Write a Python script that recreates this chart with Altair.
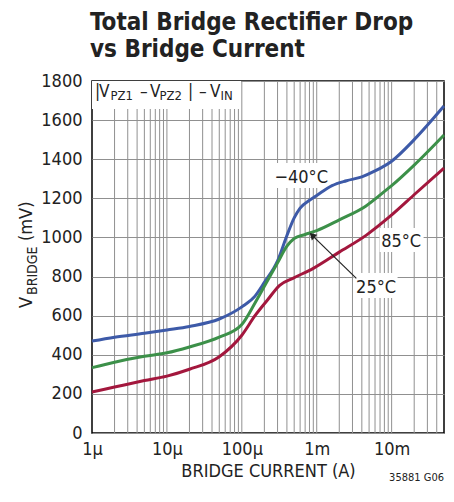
import altair as alt
import pandas as pd

FONT = "Liberation Sans Narrow, Arial Narrow, DejaVu Sans Condensed, Roboto Condensed, Liberation Sans, sans-serif"

# ---- data ----
blue_i = [1e-6, 2e-6, 5e-6, 1e-5, 2e-5, 5e-5, 1e-4, 1.5e-4, 2e-4, 3e-4, 4e-4, 5e-4, 6e-4, 8e-4, 1e-3, 1.6e-3, 2.5e-3, 4e-3, 6e-3, 1e-2, 2e-2, 5e-2]
blue_v = [470, 490, 510, 527, 545, 583, 645, 700, 770, 880, 1010, 1100, 1150, 1190, 1215, 1265, 1290, 1310, 1340, 1390, 1500, 1672]

green_i = [1e-6, 2e-6, 5e-6, 1e-5, 2e-5, 5e-5, 1e-4, 1.5e-4, 2e-4, 3e-4, 4e-4, 5e-4, 7e-4, 1e-3, 2e-3, 4.5e-3, 8.5e-3, 1e-2, 2e-2, 5e-2]
green_v = [334, 362, 392, 410, 440, 490, 555, 665, 750, 870, 955, 995, 1015, 1035, 1090, 1160, 1243, 1265, 1370, 1524]

red_i = [1e-6, 2e-6, 5e-6, 1e-5, 2e-5, 5e-5, 1e-4, 1.5e-4, 2.2e-4, 3.2e-4, 4.8e-4, 9e-4, 2e-3, 4.6e-3, 9.4e-3, 2.1e-2, 5e-2]
red_v = [210, 235, 268, 291, 326, 390, 500, 600, 680, 755, 791, 842, 925, 1012, 1106, 1226, 1355]

series_names = ["\u221240\u00b0C", "25\u00b0C", "85\u00b0C"]
series_colors = ["#3d5aa8", "#3c9049", "#a3173d"]

x_tick_values = [1e-6, 1e-5, 1e-4, 1e-3, 1e-2]
x_tick_labels = ["1\u00b5", "10\u00b5", "100\u00b5", "1m", "10m"]
y_tick_values = [0, 200, 400, 600, 800, 1000, 1200, 1400, 1600, 1800]
x_domain = [1e-6, 5e-2]
y_domain = [0, 1800]

grid_x = [m * d for d in [1e-6, 1e-5, 1e-4, 1e-3, 1e-2] for m in range(1, 10) if 1e-6 < m * d < 5e-2]

# curve labels (current, mV) and their white boxes
label_text = ["\u221240\u00b0C", "85\u00b0C", "25\u00b0C"]
label_i = [6.2e-4, 1.34e-2, 6.2e-3]
label_v = [1278, 951, 716]
box_i1 = [2.67e-4, 6.92e-3, 3.11e-3]
box_i2 = [1.49e-3, 2.67e-2, 1.2e-2]
box_v1 = [1253, 926, 690]
box_v2 = [1381, 1048, 818]

arrow_i = [3.38e-3, 8.9e-4]
arrow_v = [791, 1007]

# ---- tables ----
rows = []
for name, xs, ys in zip(series_names, [blue_i, green_i, red_i], [blue_v, green_v, red_v]):
    for a, b in zip(xs, ys):
        rows.append({"series": name, "I": a, "V": b})
curves = pd.DataFrame(rows)
grid_df = pd.DataFrame({"I": grid_x})
labels_df = pd.DataFrame({"t": label_text, "I": label_i, "V": label_v})
boxes_df = pd.DataFrame({"i1": box_i1, "i2": box_i2, "v1": box_v1, "v2": box_v2})
arrow_df = pd.DataFrame({"i1": [arrow_i[0]], "i2": [arrow_i[1]], "v1": [arrow_v[0]], "v2": [arrow_v[1]]})
head_df = pd.DataFrame({"I": [arrow_i[1]], "V": [arrow_v[1]]})

label_expr = " : ".join(
    f"datum.value < {v * 3:.0e} ? '{t}'" for v, t in zip(x_tick_values[:-1], x_tick_labels[:-1])
) + f" : '{x_tick_labels[-1]}'"

xscale = alt.Scale(type="log", domain=x_domain)
yscale = alt.Scale(domain=y_domain, nice=False)
xaxis = alt.Axis(values=x_tick_values, labelExpr=label_expr, grid=False, ticks=False, domain=False,
                 labelFont=FONT, labelFontSize=18, labelColor="#222", labelPadding=7,
                 title="BRIDGE CURRENT (A)", titleFont=FONT, titleFontSize=18, titleFontWeight="normal",
                 titleColor="#222", titlePadding=4, labelFlush=False)
yaxis = alt.Axis(values=y_tick_values, format="d", grid=True, gridColor="#909090", gridWidth=1, ticks=False,
                 domain=False, labelFont=FONT, labelFontSize=18, labelColor="#222", labelPadding=10, title=None)

base = alt.Chart(curves)

vgrid = alt.Chart(grid_df).mark_rule(color="#909090", strokeWidth=1).encode(
    x=alt.X("I:Q", scale=xscale, axis=xaxis),
    y=alt.value(0), y2=alt.value(352))

curve_layer = base.mark_line(strokeWidth=3, interpolate="monotone").encode(
    x=alt.X("I:Q", scale=xscale, axis=xaxis),
    y=alt.Y("V:Q", scale=yscale, axis=yaxis),
    color=alt.Color("series:N", scale=alt.Scale(domain=series_names, range=series_colors), legend=None),
    order=alt.Order("I:Q"))

boxes = alt.Chart(boxes_df).mark_rect(fill="white").encode(
    x=alt.X("i1:Q", scale=xscale, axis=xaxis), x2="i2:Q",
    y=alt.Y("v1:Q", scale=yscale, axis=yaxis), y2="v2:Q")

labels = alt.Chart(labels_df).mark_text(font=FONT, fontSize=18, color="#222", baseline="alphabetic").encode(
    x=alt.X("I:Q", scale=xscale, axis=xaxis),
    y=alt.Y("V:Q", scale=yscale, axis=yaxis), text="t:N")

arrow = alt.Chart(arrow_df).mark_rule(color="#222", strokeWidth=1.2).encode(
    x=alt.X("i1:Q", scale=xscale, axis=xaxis), x2="i2:Q",
    y=alt.Y("v1:Q", scale=yscale, axis=yaxis), y2="v2:Q")
head = alt.Chart(head_df).mark_point(shape="triangle", filled=True, color="#222", size=60, angle=314, opacity=1).encode(
    x=alt.X("I:Q", scale=xscale, axis=xaxis),
    y=alt.Y("V:Q", scale=yscale, axis=yaxis))

# annotation text placed in pixels
one = pd.DataFrame({"a": [0]})
def txt(s, x, y, size, weight="normal", angle=0, align="left"):
    return alt.Chart(one).mark_text(text=s, font=FONT, fontSize=size, fontWeight=weight, color="#222",
                                    align=align, baseline="alphabetic", angle=angle).encode(
        x=alt.value(x), y=alt.value(y))

topbox = alt.Chart(one).mark_rect(fill="white").encode(
    x=alt.value(0), x2=alt.value(149), y=alt.value(0), y2=alt.value(28))

box_text = [
    txt("|", 3, 16, 17), txt("V", 7, 16, 17), txt("PZ1", 18.5, 19, 13),
    txt("\u2013", 48, 16, 17), txt("V", 58, 16, 17), txt("PZ2", 67.5, 19, 13),
    txt("|", 96, 16, 17), txt("\u2013", 107, 16, 17), txt("V", 118, 16, 17), txt("IN", 128.5, 19, 13),
]
title = [txt("Total Bridge Rectifier Drop", -2, -51, 24, "bold"),
         txt("vs Bridge Current", -2, -24, 24, "bold")]
ytitle = [txt("V", -60, 227, 18, angle=270), txt("BRIDGE", -55, 214, 14, angle=270),
          txt("(mV)", -60, 160, 18, angle=270)]
foot = [txt("35881 G06", 352, 400, 11, align="right")]

chart = alt.layer(
    vgrid, boxes, topbox, curve_layer, arrow, head, labels, *box_text, *title, *ytitle, *foot
).properties(
    width=352, height=352,
    autosize=alt.AutoSizeParams(type="none"),
    padding={"left": 84, "top": 73, "right": 2, "bottom": 57},
).configure_view(stroke="black", strokeWidth=1.5)

chart.save("out.html", embed_options={"renderer": "svg", "actions": False})
